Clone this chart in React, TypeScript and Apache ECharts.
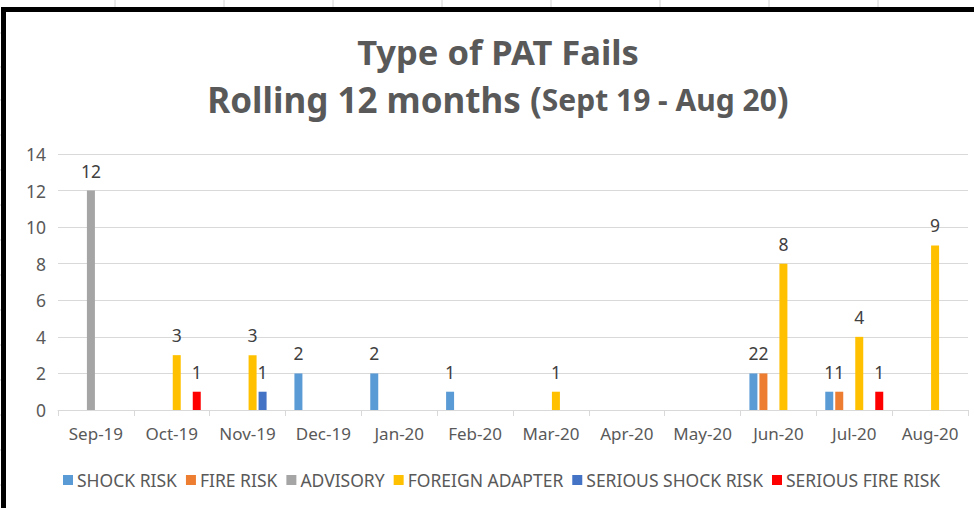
import React, { useEffect, useRef } from "react";
import * as echarts from "echarts";

const months = ["Sep-19", "Oct-19", "Nov-19", "Dec-19", "Jan-20", "Feb-20", "Mar-20", "Apr-20", "May-20", "Jun-20", "Jul-20", "Aug-20"];
const shockRisk = [null, null, null, 2, 2, 1, null, null, null, 2, 1, null];
const fireRisk = [null, null, null, null, null, null, null, null, null, 2, 1, null];
const advisory = [12, null, null, null, null, null, null, null, null, null, null, null];
const foreignAdapter = [null, 3, 3, null, null, null, 1, null, null, 8, 4, 9];
const seriousShockRisk = [null, null, 1, null, null, null, null, null, null, null, null, null];
const seriousFireRisk = [null, 1, null, null, null, null, null, null, null, null, 1, null];

const seriesDefs = [
  { name: "SHOCK RISK", data: shockRisk, color: "#5B9BD5" },
  { name: "FIRE RISK", data: fireRisk, color: "#ED7D31" },
  { name: "ADVISORY", data: advisory, color: "#A5A5A5" },
  { name: "FOREIGN ADAPTER", data: foreignAdapter, color: "#FFC000" },
  { name: "SERIOUS SHOCK RISK", data: seriousShockRisk, color: "#4472C4" },
  { name: "SERIOUS FIRE RISK", data: seriousFireRisk, color: "#FF0000" },
];

const FONT = "'Noto Sans', sans-serif";

export default function App() {
  const ref = useRef<HTMLDivElement>(null);
  useEffect(() => {
    if (!ref.current) return;
    const chart = echarts.init(ref.current, null, { renderer: "svg" });
    const cellLines: any[] = [];
    [115, 224, 333, 442, 551, 660, 769, 878].forEach((x) =>
      cellLines.push({ type: "line", shape: { x1: x, y1: 0, x2: x, y2: 7 }, style: { stroke: "#d4d4d4", lineWidth: 1 } })
    );
    [33, 67, 100, 135, 170, 205, 240, 275, 310, 345, 380, 415, 450, 485].forEach((y) =>
      cellLines.push({ type: "line", shape: { x1: 0, y1: y, x2: 1, y2: y }, style: { stroke: "#c8c8c8", lineWidth: 1 } })
    );
    chart.setOption({
      animation: false,
      backgroundColor: "#ffffff",
      textStyle: { fontFamily: FONT },
      title: {
        left: 493,
        textAlign: "center",
        top: 22,
        text: "{a|Type of PAT Fails}\n{b|Rolling 12 months (}{c|Sept 19 - Aug 20}{b|)}",
        textStyle: {
          rich: {
            a: { fontSize: 34.5, fontWeight: "bold", color: "#595959", fontFamily: FONT, lineHeight: 48 },
            b: { fontSize: 35, fontWeight: "bold", color: "#595959", fontFamily: FONT, lineHeight: 48 },
            c: { fontSize: 30, fontWeight: "bold", color: "#595959", fontFamily: FONT, lineHeight: 48 },
          },
        },
      },
      legend: {
        bottom: 14,
        left: 58,
        itemWidth: 10,
        itemHeight: 10,
        itemGap: 9,
        icon: "rect",
        textStyle: { fontSize: 17.5, color: "#595959", fontFamily: FONT, padding: [0, 0, 0, -1] },
        data: seriesDefs.map((s) => s.name),
      },
      grid: { left: 58, right: 6, top: 154, bottom: 98, containLabel: false },
      xAxis: {
        type: "category",
        data: months,
        axisLine: { lineStyle: { color: "#d9d9d9", width: 1 } },
        axisTick: { show: true, length: 6, lineStyle: { color: "#d9d9d9" } },
        axisLabel: { fontSize: 17, color: "#595959", margin: 15, fontFamily: FONT, interval: 0 },
      },
      yAxis: {
        type: "value",
        min: 0,
        max: 14,
        interval: 2,
        axisLine: { show: false },
        axisTick: { show: false },
        splitLine: { lineStyle: { color: "#d9d9d9", width: 1 } },
        axisLabel: { fontSize: 17.5, color: "#595959", margin: 12, fontFamily: FONT },
      },
      series: seriesDefs.map((s) => ({
        name: s.name,
        type: "bar",
        data: s.data,
        barWidth: 8,
        barGap: "25%",
        itemStyle: { color: s.color },
        label: { show: true, position: "top", distance: 11, fontSize: 17.5, color: "#404040", fontFamily: FONT },
      })),
      graphic: [
        ...cellLines,
        {
          type: "rect",
          shape: { x: 3.5, y: 9.5, width: 1100, height: 700 },
          style: { fill: "none", stroke: "#000000", lineWidth: 5 },
          z: 100,
        },
      ],
    });
    return () => chart.dispose();
  }, []);
  return <div ref={ref} style={{ position: "fixed", left: 0, top: 0, width: 974, height: 508 }} />;
}
